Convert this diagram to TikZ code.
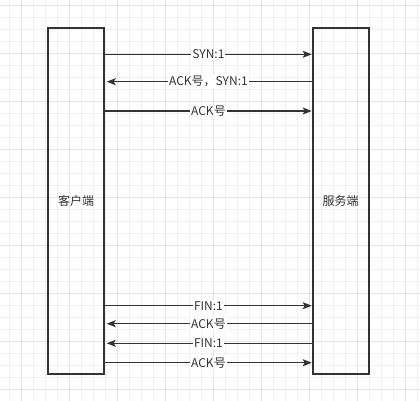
\documentclass[tikz,border=0pt]{standalone}
\usepackage{fontspec}
\setmainfont{Noto Sans CJK SC}
\usepackage{xcolor}
\usetikzlibrary{arrows.meta}
\definecolor{ink}{HTML}{333333}
\definecolor{gridminor}{HTML}{F1F1F1}
\definecolor{gridmajor}{HTML}{E5E5E5}

\begin{document}
\begin{tikzpicture}[
        x=1pt, y=-1pt,
        font=\fontsize{12}{14}\selectfont,
        host/.style={draw=ink, line width=2pt, minimum width=56pt, minimum height=346.5pt, inner sep=0pt, text=ink},
        msg/.style={-{Stealth[length=9pt, width=7pt, inset=2pt]}, draw=ink, line width=1.5pt},
        lbl/.style={fill=white, text=ink, inner sep=1pt}
    ]
        \useasboundingbox (0,0) rectangle (420,401);
        % background grid
        \foreach \gx in {9.7,21.7,...,420} \draw[gridminor, line width=1pt] (\gx,0) -- (\gx,401);
        \foreach \gy in {5.3,17.3,...,401} \draw[gridminor, line width=1pt] (0,\gy) -- (420,\gy);
        \foreach \gx in {21.7,69.7,...,420} \draw[gridmajor, line width=1pt] (\gx,0) -- (\gx,401);
        \foreach \gy in {5.3,53.3,...,401} \draw[gridmajor, line width=1pt] (0,\gy) -- (420,\gy);

        \node[host] (client) at (76.2,200.8) {客户端};
        \node[host] (server) at (340.7,200.8) {服务端};

        \coordinate (syn) at (0,54.3);
        \coordinate (synack) at (0,81.7);
        \coordinate (ack) at (0,111);
        \coordinate (fin1) at (0,305.7);
        \coordinate (ack1) at (0,323.7);
        \coordinate (fin2) at (0,343.3);
        \coordinate (ack2) at (0,362.7);

        % handshake
        \draw[msg] (client.east |- syn) -- (server.west |- syn) node[lbl, midway] {SYN:1};
        \draw[msg, shorten >=1.5pt] (server.west |- synack) -- (client.east |- synack) node[lbl, midway] {ACK号，SYN:1};
        \draw[msg] (client.east |- ack) -- (server.west |- ack) node[lbl, midway] {ACK号};
        % teardown
        \draw[msg] (client.east |- fin1) -- (server.west |- fin1) node[lbl, midway] {FIN:1};
        \draw[msg, shorten >=1.5pt] (server.west |- ack1) -- (client.east |- ack1) node[lbl, midway] {ACK号};
        \draw[msg, shorten >=1.5pt] (server.west |- fin2) -- (client.east |- fin2) node[lbl, midway] {FIN:1};
        \draw[msg] (client.east |- ack2) -- (server.west |- ack2) node[lbl, midway] {ACK号};
    \end{tikzpicture}
\end{document}
